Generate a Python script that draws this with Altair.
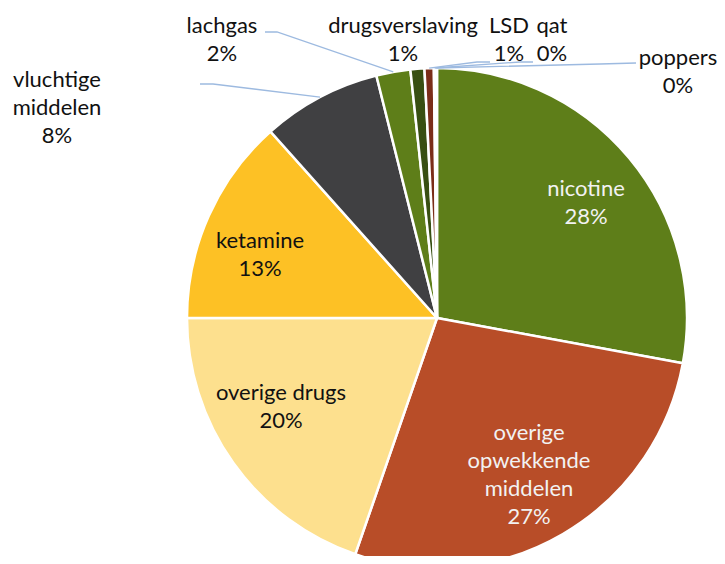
import math
import altair as alt
import pandas as pd

# ---- data ----
categories = ["nicotine", "overige opwekkende middelen", "overige drugs", "ketamine",
              "vluchtige middelen", "lachgas", "drugsverslaving", "LSD", "qat", "poppers"]
values = [27.9, 27.4, 19.7, 13.4, 7.7, 2.2, 0.9, 0.6, 0.1, 0.1]
display_names = ["nicotine", "overige\nopwekkende\nmiddelen", "overige drugs", "ketamine",
                 "vluchtige\nmiddelen", "lachgas", "drugsverslaving", "LSD", "qat", "poppers"]
colors = ["#5E7E19", "#B84D28", "#FDE08E", "#FDC125", "#404042",
          "#5E7E19", "#384F12", "#7B2D19", "#987300", "#9A7200"]

# ---- layout (pixel positions in image coordinates) ----
OFF = 8
W, H = 725 - 2 * OFF, 564 - 2 * OFF
CX, CY, R = 437, 318, 250
LH = 28
label_pos = {
    "nicotine": (586, 203, "#F2F2F2"),
    "overige opwekkende middelen": (529, 475, "#F2F2F2"),
    "overige drugs": (281, 407, "#111111"),
    "ketamine": (260, 255, "#111111"),
    "vluchtige middelen": (57, 108, "#111111"),
    "lachgas": (222, 40, "#111111"),
    "drugsverslaving": (403, 40, "#111111"),
    "LSD": (509, 40, "#111111"),
    "qat": (552, 40, "#111111"),
    "poppers": (678, 72, "#111111"),
}
leader_anchor = {
    "vluchtige middelen": [(200, 84), (213, 84)],
    "lachgas": [(265, 32), (277, 32)],
    "LSD": [(490, 62), (477, 62)],
    "qat": [(533, 62), (520, 62)],
    "poppers": [(636, 63), (600, 64)],
}

df = pd.DataFrame({"cat": categories, "value": values, "idx": list(range(len(categories)))})

pie = alt.Chart(df).mark_arc(radius=R, stroke="white", strokeWidth=2.5).encode(
    theta=alt.Theta("value:Q", stack=True),
    order=alt.Order("idx:Q"),
    color=alt.Color("cat:N", scale=alt.Scale(domain=categories, range=colors), legend=None),
    x=alt.value(CX - OFF),
    y=alt.value(CY - OFF),
)

# labels (first line position so that the text block is centred on the anchor)
rows = []
for c, n, v in zip(categories, display_names, values):
    x, y, tc = label_pos[c]
    label = f"{n}\n{round(v):d}%"
    nlines = label.count("\n") + 1
    rows.append({"cat": c, "label": label, "x": x - OFF,
                 "y": y - OFF - (nlines - 1) * LH / 2, "tc": tc})
ldf = pd.DataFrame(rows)

text = alt.Chart(ldf).mark_text(font="Lato", fontSize=22, lineHeight=LH, lineBreak="\n",
                                align="center", baseline="middle").encode(
    x=alt.X("x:Q", scale=None),
    y=alt.Y("y:Q", scale=None),
    text="label:N",
    color=alt.Color("tc:N", scale=None),
)

# leader lines: end on the slice edge at its mid angle (derived from the values)
total = sum(values)
cum = 0.0
mid = {}
for c, v in zip(categories, values):
    mid[c] = (cum + v / 2) / total * 2 * math.pi
    cum += v
lrows = []
for c, pts in leader_anchor.items():
    k = 0
    for (px, py) in pts:
        lrows.append({"cat": c, "k": k, "x": px - OFF, "y": py - OFF})
        k += 1
    a = mid[c]
    lrows.append({"cat": c, "k": k,
                  "x": CX + R * math.sin(a) - OFF,
                  "y": CY - R * math.cos(a) - OFF})
lines_df = pd.DataFrame(lrows)

lines = alt.Chart(lines_df).mark_line(color="#9DBAE0", strokeWidth=1.3).encode(
    x=alt.X("x:Q", scale=None),
    y=alt.Y("y:Q", scale=None),
    detail="cat:N",
    order="k:Q",
)

chart = alt.layer(pie, lines, text).properties(
    width=W, height=H, padding=0, autosize=alt.AutoSizeParams(type="none")
).configure_view(strokeWidth=0)

chart.save("out.html", embed_options={"renderer": "svg", "actions": False})
